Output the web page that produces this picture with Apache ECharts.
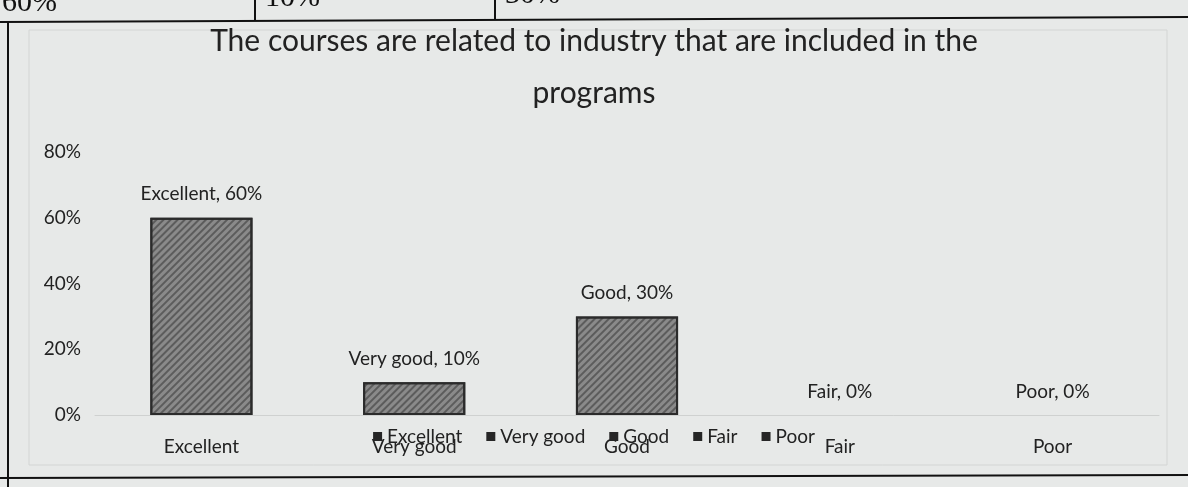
<!DOCTYPE html>
<html>
<head>
<meta charset="utf-8">
<script src="https://cdn.jsdelivr.net/npm/echarts@6/dist/echarts.min.js"></script>
<style>
  html, body { margin: 0; padding: 0; background: #e7e9e8; }
  #box { width: 1188px; height: 487px; }
</style>
</head>
<body>
<div id="box"></div>
<script>
// data
const categories = ['Excellent', 'Very good', 'Good', 'Fair', 'Poor'];
const values = [60, 10, 30, 0, 0];
const yTicks = [0, 20, 40, 60, 80];
const titleText = 'The courses are related to industry that are included in the\nprograms';

let myChart = echarts.init(document.getElementById('box'));

// one series per category so the legend lists every category (as in the Excel chart)
let series = categories.map((name, i) => ({
  name: name,
  type: 'bar',
  stack: 'all',
  barWidth: '48%',
  data: categories.map((c, j) => {
    if (j !== i) return null;
    // zero bars have no visible outline
    return values[i] === 0 ? { value: 0, itemStyle: { borderWidth: 0 } } : values[i];
  }),
  itemStyle: {
    color: '#8a8a8a',
    borderColor: '#2b2b2b',
    borderWidth: 2,
    decal: {
      color: 'rgba(35,35,35,0.45)',
      dashArrayX: [1, 0],
      dashArrayY: [1.5, 2.5],
      rotation: -Math.PI / 4
    }
  },
  label: {
    show: true,
    position: 'top',
    distance: 14,
    fontFamily: 'Lato',
    fontSize: 19,
    color: '#222',
    formatter: p => p.seriesName + ', ' + p.value + '%'
  }
}));

let option = {
  backgroundColor: '#e7e9e8',
  animation: false,
  title: {
    text: titleText,
    left: 'center',
    top: 10,
    textStyle: {
      fontFamily: 'Lato',
      fontWeight: 'normal',
      fontSize: 30,
      lineHeight: 52,
      color: '#222'
    }
  },
  legend: {
    bottom: 36,
    left: 'center',
    icon: 'rect',
    itemWidth: 9,
    itemHeight: 9,
    itemGap: 24,
    itemStyle: { color: '#262626', borderWidth: 0, decal: 'none' },
    textStyle: { fontFamily: 'Lato', fontSize: 19, color: '#222' },
    data: categories
  },
  grid: { left: 95, right: 29, top: 152, bottom: 72 },
  xAxis: {
    type: 'category',
    data: categories,
    axisTick: { show: false },
    axisLine: { lineStyle: { color: '#cfd1d0' } },
    axisLabel: { margin: 22, fontFamily: 'Lato', fontSize: 19, color: '#222' }
  },
  yAxis: {
    type: 'value',
    min: yTicks[0],
    max: yTicks[yTicks.length - 1],
    interval: 20,
    splitLine: { show: false },
    axisLine: { show: false },
    axisLabel: { margin: 14, fontFamily: 'Lato', fontSize: 19, color: '#222', formatter: '{value}%' }
  },
  graphic: [
    // scrap of the table above the chart
    { type: 'line', shape: { x1: 0, y1: 22, x2: 1188, y2: 17 }, style: { stroke: '#111', lineWidth: 2 } },
    { type: 'line', shape: { x1: 255, y1: 0, x2: 255, y2: 20 }, style: { stroke: '#111', lineWidth: 2 } },
    { type: 'line', shape: { x1: 495, y1: 0, x2: 495, y2: 19 }, style: { stroke: '#111', lineWidth: 2 } },
    { type: 'text', left: 2, top: -12, style: { text: '60%', font: '30px "Liberation Serif"', fill: '#111' } },
    { type: 'text', left: 265, top: -17, style: { text: '10%', font: '30px "Liberation Serif"', fill: '#111' } },
    { type: 'text', left: 505, top: -20, style: { text: '30%', font: '30px "Liberation Serif"', fill: '#111' } },
    // outer frame
    { type: 'line', shape: { x1: 8, y1: 22, x2: 8, y2: 487 }, style: { stroke: '#111', lineWidth: 2 } },
    { type: 'line', shape: { x1: 0, y1: 478, x2: 1188, y2: 475 }, style: { stroke: '#111', lineWidth: 2 } },
    // chart area border
    { type: 'rect', shape: { x: 29, y: 30, width: 1138, height: 435 }, style: { fill: 'none', stroke: '#d3d5d4', lineWidth: 1 }, z: -1 }
  ],
  series: series
};

myChart.setOption(option);
</script>
</body>
</html>
